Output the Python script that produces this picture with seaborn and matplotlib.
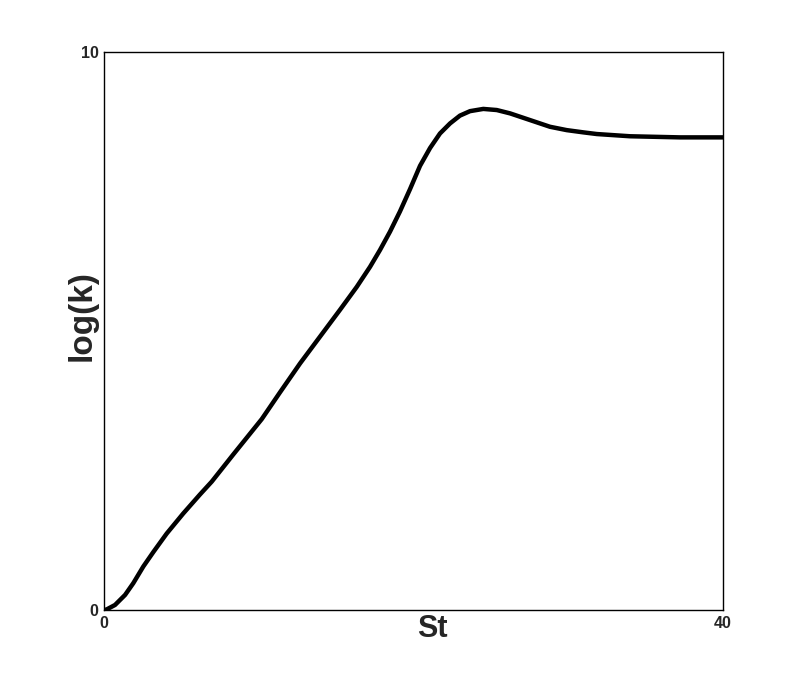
import numpy as np
import pandas as pd
import matplotlib
matplotlib.use("Agg")
import matplotlib.pyplot as plt
import seaborn as sns

# valores
st = [0.0, 0.17, 0.71, 1.36, 1.89, 2.54, 3.19, 4.05, 5.12, 6.20, 6.96, 8.36,
      10.19, 11.37, 12.67, 13.96, 15.25, 16.33, 17.19, 17.83, 18.48, 19.12,
      19.77, 20.42, 21.07, 21.71, 22.36, 23.00, 23.65, 24.51, 25.38, 26.24,
      27.10, 27.96, 28.82, 29.90, 30.97, 31.84, 33.99, 37.22, 40.0]
logk = [0.0, 0.01, 0.09, 0.27, 0.48, 0.78, 1.04, 1.37, 1.73, 2.07, 2.30, 2.79,
        3.42, 3.90, 4.42, 4.90, 5.38, 5.79, 6.15, 6.45, 6.78, 7.14,
        7.54, 7.96, 8.28, 8.54, 8.72, 8.86, 8.94, 8.98, 8.96, 8.90,
        8.82, 8.74, 8.66, 8.60, 8.56, 8.53, 8.49, 8.47, 8.47]
x_ticks = [0, 40]
y_ticks = [0, 10]

df = pd.DataFrame({"St": st, "log(k)": logk})

sns.set_style("white")
plt.rcParams['font.family'] = ['Liberation Sans', 'DejaVu Sans']

fig = plt.figure(figsize=(7.99, 6.87), dpi=100)
ax = fig.add_axes([0.1302, 0.1121, 0.7747, 0.8122])
sns.lineplot(data=df, x="St", y="log(k)", ax=ax, color="black", linewidth=3.2,
             solid_joinstyle="round", solid_capstyle="round")

ax.set_xlim(0, 40)
ax.set_ylim(0, 10)
ax.set_xticks(x_ticks)
ax.set_yticks(y_ticks)
ax.tick_params(length=0, labelsize=11.5)
ax.tick_params(axis="x", pad=4)
ax.tick_params(axis="y", pad=4)
for lbl in ax.get_xticklabels() + ax.get_yticklabels():
    lbl.set_fontweight("bold")
for s in ax.spines.values():
    s.set_color("black")
    s.set_linewidth(1)

ax.set_xlabel("St", fontsize=22, fontweight="bold", va="center")
ax.set_ylabel("log(k)", fontsize=24, fontweight="bold", va="center")
ax.xaxis.set_label_coords(0.53, -0.034)
ax.yaxis.set_label_coords(-0.0355, 0.527)

plt.savefig("out.png", dpi=100)
